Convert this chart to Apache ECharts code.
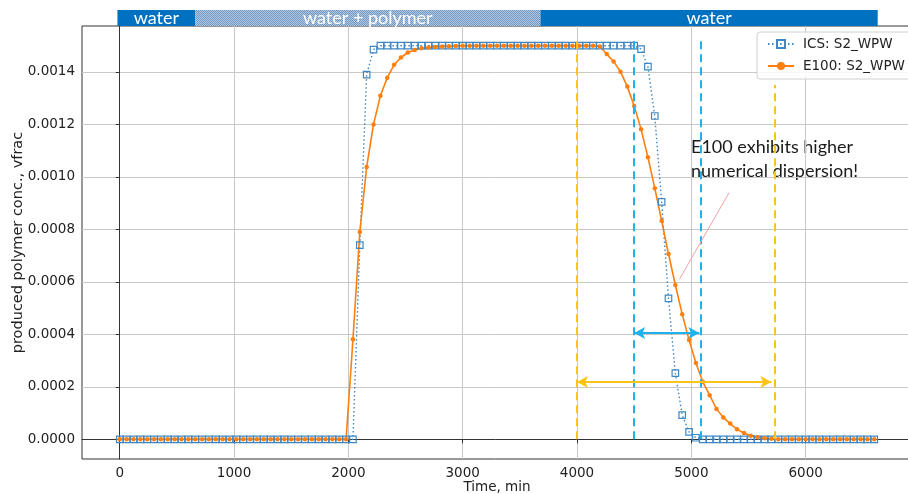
<!DOCTYPE html>
<html>
<head>
<meta charset="utf-8">
<script src="https://cdn.jsdelivr.net/npm/echarts@6/dist/echarts.min.js"></script>
<style>
  html, body { margin: 0; padding: 0; background: #fff; }
  #main { width: 908px; height: 494px; }
</style>
</head>
<body>
<div id="main"></div>
<script>
// time axis, min
var times = [
    0, 60, 120, 180, 240, 300, 360, 420, 480, 540,
    600, 660, 720, 780, 840, 900, 960, 1020, 1080, 1140,
    1200, 1260, 1320, 1380, 1440, 1500, 1560, 1620, 1680, 1740,
    1800, 1860, 1920, 1980, 2040, 2100, 2160, 2220, 2280, 2340,
    2400, 2460, 2520, 2580, 2640, 2700, 2760, 2820, 2880, 2940,
    3000, 3060, 3120, 3180, 3240, 3300, 3360, 3420, 3480, 3540,
    3600, 3660, 3720, 3780, 3840, 3900, 3960, 4020, 4080, 4140,
    4200, 4260, 4320, 4380, 4440, 4500, 4560, 4620, 4680, 4740,
    4800, 4860, 4920, 4980, 5040, 5100, 5160, 5220, 5280, 5340,
    5400, 5460, 5520, 5580, 5640, 5700, 5760, 5820, 5880, 5940,
    6000, 6060, 6120, 6180, 6240, 6300, 6360, 6420, 6480, 6540,
    6600
];
// ICS: S2_WPW
var icsVals = [
    0, 0, 0, 0, 0, 0, 0, 0, 0, 0,
    0, 0, 0, 0, 0, 0, 0, 0, 0, 0,
    0, 0, 0, 0, 0, 0, 0, 0, 0, 0,
    0, 0, 0, 0, 0, 0.00074, 0.00139, 0.001485, 0.0015, 0.0015,
    0.0015, 0.0015, 0.0015, 0.0015, 0.0015, 0.0015, 0.0015, 0.0015, 0.0015, 0.0015,
    0.0015, 0.0015, 0.0015, 0.0015, 0.0015, 0.0015, 0.0015, 0.0015, 0.0015, 0.0015,
    0.0015, 0.0015, 0.0015, 0.0015, 0.0015, 0.0015, 0.0015, 0.0015, 0.0015, 0.0015,
    0.0015, 0.0015, 0.0015, 0.0015, 0.0015, 0.0015, 0.001487, 0.00142, 0.001232, 0.000905,
    0.000537, 0.000252, 0.000092, 0.000028, 0.000006, 0, 0, 0, 0, 0,
    0, 0, 0, 0, 0, 0, 0, 0, 0, 0,
    0, 0, 0, 0, 0, 0, 0, 0, 0, 0,
    0
];
// E100: S2_WPW
var e100Vals = [
    0, 0, 0, 0, 0, 0, 0, 0, 0, 0,
    0, 0, 0, 0, 0, 0, 0, 0, 0, 0,
    0, 0, 0, 0, 0, 0, 0, 0, 0, 0,
    0, 0, 0, 0, 0.000381, 0.00079, 0.001038, 0.0012, 0.001309, 0.001378,
    0.001427, 0.001455, 0.001474, 0.001484, 0.00149, 0.001493, 0.001495, 0.001497, 0.001498, 0.001499,
    0.0015, 0.0015, 0.0015, 0.0015, 0.0015, 0.0015, 0.0015, 0.0015, 0.0015, 0.0015,
    0.0015, 0.0015, 0.0015, 0.0015, 0.0015, 0.0015, 0.0015, 0.0015, 0.0015, 0.0015,
    0.001497, 0.001468, 0.00144, 0.001401, 0.001344, 0.00127, 0.001182, 0.001075, 0.000957, 0.000833,
    0.000706, 0.000588, 0.000477, 0.000378, 0.000291, 0.000219, 0.000168, 0.000116, 0.000083, 0.00006,
    0.000038, 0.000024, 0.000014, 0.000008, 0.000004, 0.000002, 0, 0, 0, 0,
    0, 0, 0, 0, 0, 0, 0, 0, 0, 0,
    0
];
var xTicks = [0, 1000, 2000, 3000, 4000, 5000, 6000];
var yTicks = [0, 0.0002, 0.0004, 0.0006, 0.0008, 0.0010, 0.0012, 0.0014];
var xRange = [-330, 6930];
var yRange = [-0.000075, 0.001575];

// injection phases shown in the top strip
var phaseBounds = [-20, 660, 3680, 6630];
var phaseNames = ['water', 'water + polymer', 'water'];

// annotation guides
var blueGuides = [4500, 5080];
var blueGuideTop = 0.00153;
var orangeGuides = [4000, 5730];
var orangeGuideTops = [0.00153, 0.00135];
var blueSpan = [4500, 5070, 0.000405];
var orangeSpan = [4000, 5700, 0.000218];
var pointer = [[4896, 0.00061], [5330, 0.00094]];

function pair(xs, ys) {
    var out = [];
    for (var i = 0; i < xs.length; i++) out.push([xs[i], ys[i]]);
    return out;
}

// hatch for the polymer slug
var hatch = document.createElement('canvas');
hatch.width = 4; hatch.height = 4;
var hc = hatch.getContext('2d');
hc.fillStyle = '#b4c9e0';
hc.fillRect(0, 0, 4, 4);
hc.fillStyle = '#6f97c4';
hc.fillRect(0, 0, 1, 1); hc.fillRect(1, 1, 1, 1); hc.fillRect(2, 0, 1, 1); hc.fillRect(3, 1, 1, 1);
hc.fillRect(0, 2, 1, 1); hc.fillRect(2, 2, 1, 1); hc.fillRect(1, 3, 1, 1); hc.fillRect(3, 3, 1, 1);

var phaseAreas = [];
for (var p = 0; p < phaseNames.length; p++) {
    phaseAreas.push([
        {
            xAxis: phaseBounds[p],
            name: phaseNames[p],
            itemStyle: {color: p === 1 ? {image: hatch, repeat: 'repeat'} : '#0070c0'}
        },
        {xAxis: phaseBounds[p + 1]}
    ]);
}

var guideLines = [];
blueGuides.forEach(function (x) {
    guideLines.push([{coord: [x, 0], lineStyle: {color: '#1cb2ee'}}, {coord: [x, blueGuideTop]}]);
});
orangeGuides.forEach(function (x, i) {
    guideLines.push([{coord: [x, 0], lineStyle: {color: '#fcc319'}}, {coord: [x, orangeGuideTops[i]]}]);
});

var arrows = [
    [{coord: [blueSpan[0], blueSpan[2]], lineStyle: {color: '#1cb2ee'}}, {coord: [blueSpan[1], blueSpan[2]]}],
    [{coord: [orangeSpan[0], orangeSpan[2]], lineStyle: {color: '#fcc319'}}, {coord: [orangeSpan[1], orangeSpan[2]]}]
];

var fontTick = 'DejaVu Sans';
var option = {
    animation: false,
    backgroundColor: '#fff',
    grid: [
        {left: 82, top: 26, width: 830, height: 433, show: true, borderColor: '#333', borderWidth: 1,
            outerBoundsMode: 'none', containLabel: false},
        {left: 82, top: 10, width: 830, height: 16, outerBoundsMode: 'none', containLabel: false}
    ],
    legend: {
        left: 757, top: 32,
        orient: 'vertical',
        data: ['ICS: S2_WPW', 'E100: S2_WPW'],
        backgroundColor: 'rgba(255,255,255,0.85)',
        borderColor: '#d0d0d0', borderWidth: 1, borderRadius: 3,
        padding: [5, 12, 6, 10],
        itemWidth: 26, itemHeight: 10, itemGap: 8,
        textStyle: {fontFamily: fontTick, fontSize: 13.5, color: '#222', padding: [0, 0, 0, 4]}
    },
    xAxis: [
        {
            type: 'value', gridIndex: 0, min: xRange[0], max: xRange[1],
            name: 'Time, min', nameLocation: 'middle', nameGap: 28, nameMoveOverlap: false,
            nameTextStyle: {fontFamily: fontTick, fontSize: 13.5, color: '#222', verticalAlign: 'middle'},
            axisLine: {show: true, lineStyle: {color: '#333'}},
            axisTick: {show: true, length: 4, customValues: xTicks, lineStyle: {color: '#333'}},
            axisLabel: {
                customValues: xTicks, margin: 7, fontFamily: fontTick, fontSize: 13.5, color: '#222',
                formatter: function (v) { return String(v); }
            },
            splitLine: {show: true, lineStyle: {color: '#c8c8c8', width: 1}}
        },
        {
            type: 'value', gridIndex: 1, min: xRange[0], max: xRange[1], show: false
        }
    ],
    yAxis: [
        {
            type: 'value', gridIndex: 0, min: yRange[0], max: yRange[1],
            name: 'produced polymer conc., vfrac', nameLocation: 'middle', nameGap: 64, nameMoveOverlap: false,
            nameTextStyle: {fontFamily: fontTick, fontSize: 14.5, color: '#222', verticalAlign: 'middle'},
            axisLine: {show: true, lineStyle: {color: '#333'}},
            axisTick: {show: true, length: 4, customValues: yTicks, lineStyle: {color: '#333'}},
            axisLabel: {
                customValues: yTicks, margin: 7, fontFamily: fontTick, fontSize: 13.5, color: '#222',
                formatter: function (v) { return v.toFixed(4); }
            },
            splitLine: {show: true, lineStyle: {color: '#c8c8c8', width: 1}}
        },
        {type: 'value', gridIndex: 1, min: 0, max: 1, show: false}
    ],
    series: [
        {
            name: 'ICS: S2_WPW', type: 'line', xAxisIndex: 0, yAxisIndex: 0,
            data: pair(times, icsVals),
            symbol: 'rect', symbolSize: 6.5, showAllSymbol: true,
            itemStyle: {color: 'rgba(255,255,255,0)', borderColor: '#3f87c4', borderWidth: 1.2},
            lineStyle: {color: '#3f87c4', width: 1.4, type: [1.5, 2.5]},
            emphasis: {disabled: true}
        },
        {
            name: 'E100: S2_WPW', type: 'line', xAxisIndex: 0, yAxisIndex: 0,
            data: pair(times, e100Vals),
            symbol: 'circle', symbolSize: 4.5, showAllSymbol: true,
            itemStyle: {color: '#ff7f0e'},
            lineStyle: {color: '#ff7f0e', width: 1.6},
            emphasis: {disabled: true}
        },
        {
            // guides, arrows and pointer
            type: 'line', xAxisIndex: 0, yAxisIndex: 0, data: [], silent: true,
            markLine: {
                silent: true, symbol: ['none', 'none'], label: {show: false},
                lineStyle: {type: [8, 5], width: 2},
                data: guideLines
            }
        },
        {
            type: 'line', xAxisIndex: 0, yAxisIndex: 0, data: [], silent: true,
            markLine: {
                silent: true, symbol: ['arrow', 'arrow'], symbolSize: [9, 11], label: {show: false},
                lineStyle: {type: 'solid', width: 2},
                data: arrows
            }
        },
        {
            type: 'line', xAxisIndex: 0, yAxisIndex: 0, data: [], silent: true,
            markLine: {
                silent: true, symbol: ['none', 'none'], label: {show: false},
                lineStyle: {type: 'solid', width: 1, color: '#f4a3a3'},
                data: [[{coord: pointer[0]}, {coord: pointer[1]}]]
            }
        },
        {
            // top phase strip
            type: 'line', xAxisIndex: 1, yAxisIndex: 1, data: [], silent: true,
            markArea: {
                silent: true,
                label: {
                    show: true, position: 'inside', color: '#fff',
                    fontFamily: 'Lato', fontSize: 18
                },
                data: phaseAreas
            }
        }
    ],
    graphic: [
        {
            type: 'text', left: 691, top: 135,
            style: {
                text: 'E100 exhibits higher\nnumerical dispersion!',
                fontFamily: 'Lato', fontSize: 18, lineHeight: 24, fill: '#1a1a1a'
            }
        }
    ]
};
var myChart = echarts.init(document.getElementById('main'));
myChart.setOption(option);
</script>
</body>
</html>
